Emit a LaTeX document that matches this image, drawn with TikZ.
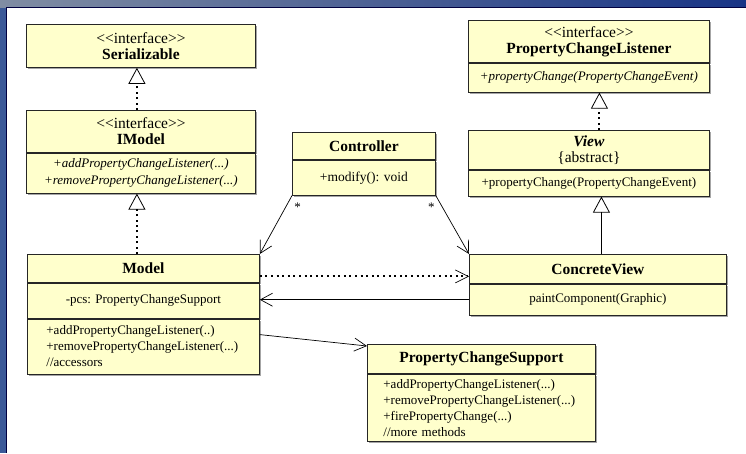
\documentclass[tikz,border=0pt]{standalone}
\usepackage{fontspec}
\setmainfont{Liberation Serif}
\usetikzlibrary{arrows.meta,shadows}
\definecolor{umlfill}{RGB}{255,255,204}
\definecolor{frameblue}{RGB}{59,89,152}
\definecolor{framegray}{RGB}{128,141,163}
\definecolor{framedark}{RGB}{24,52,134}
\newcommand{\umlname}{\fontsize{15.5}{20}\selectfont\bfseries}
\newcommand{\stereo}{\fontsize{15.5}{20}\selectfont{<}{<}interface{>}{>}}
\begin{document}
\begin{tikzpicture}[x=1pt,y=-1pt,
	cls/.style={draw=black!85,line width=0.8pt,fill=umlfill,inner sep=0pt,anchor=north west,
		align=center,font=\fontsize{13}{16}\selectfont,
		drop shadow={shadow xshift=1.5pt,shadow yshift=-1.5pt,fill=black!35,opacity=1}},
	oper/.style={font=\fontsize{13}{17}\selectfont\itshape},
	real/.style={line width=2pt,dash pattern=on 2pt off 3.4pt,
		-{Triangle[open,length=16pt,width=17pt,line width=0.8pt]}},
	gen/.style={line width=0.8pt,-{Triangle[open,length=16pt,width=17pt,line width=0.8pt]}},
	assoc/.style={line width=0.7pt,-{Straight Barb[length=12pt,width=13pt,line width=0.7pt]}},
	dep/.style={line width=2pt,dash pattern=on 2pt off 3.6pt,
		-{Straight Barb[length=13pt,width=13pt,line width=0.7pt]}},
	mult/.style={font=\fontsize{13}{13}\selectfont,inner sep=0pt}]
	% slide frame
	\fill[white] (0,0) rectangle (746,453);
	\useasboundingbox (0,0) rectangle (746,453);
	\fill[frameblue] (0,0) rectangle (6,453);
	\shade[left color=framegray,right color=framedark] (0,0) rectangle (746,7);
	\draw[black!75!blue,line width=1pt] (6,453) -- (6,7) -- (746,7);
	% interfaces
	\node[cls,minimum width=229pt,minimum height=43pt] (serial) at (26,24) {\stereo\\\umlname Serializable};
	\node[cls,minimum width=229pt,minimum height=42pt] (imodel) at (26,110) {\stereo\\\umlname IModel};
	\node[cls,oper,minimum width=229pt,minimum height=40pt] (imodel-b) at (imodel.south west)
		{+addPropertyChangeListener(...)\\+removePropertyChangeListener(...)};
	\node[cls,minimum width=241pt,minimum height=42pt] (pcl) at (468,20) {\stereo\\\umlname PropertyChangeListener};
	\node[cls,oper,minimum width=241pt,minimum height=29pt] (pcl-b) at (pcl.south west)
		{+propertyChange(PropertyChangeEvent)};
	% classes
	\node[cls,minimum width=143pt,minimum height=27pt] (ctrl) at (292,132) {\umlname Controller};
	\node[cls,minimum width=143pt,minimum height=35pt] (ctrl-b) at (ctrl.south west)
		{\fontsize{13.5}{16}\selectfont +modify(): void};
	\node[cls,minimum width=241pt,minimum height=39pt] (view) at (468,130)
		{\umlname\itshape View\\\fontsize{15.5}{20}\selectfont\{abstract\}};
	\node[cls,minimum width=241pt,minimum height=26pt] (view-b) at (view.south west)
		{+propertyChange(PropertyChangeEvent)};
	\node[cls,minimum width=232pt,minimum height=28pt] (model) at (27,254) {\umlname Model};
	\node[cls,minimum width=232pt,minimum height=35pt] (model-a) at (model.south west) {-pcs: PropertyChangeSupport};
	\node[cls,text width=194pt,inner xsep=19pt,minimum height=55pt,align=left] (model-b) at (model-a.south west)
		{+addPropertyChangeListener(..)\\+removePropertyChangeListener(...)\\//accessors};
	\node[cls,minimum width=257pt,minimum height=29pt] (cview) at (469,254) {\umlname ConcreteView};
	\node[cls,minimum width=257pt,minimum height=31pt] (cview-b) at (cview.south west) {paintComponent(Graphic)};
	\node[cls,minimum width=228pt,minimum height=29pt] (pcs) at (367,344) {\umlname PropertyChangeSupport};
	\node[cls,text width=196pt,inner xsep=16pt,minimum height=67pt,align=left] (pcs-b) at (pcs.south west)
		{+addPropertyChangeListener(...)\\+removePropertyChangeListener(...)\\+firePropertyChange(...)\\//more methods};
	% realisation and inheritance
	\coordinate (ix) at ([xshift=-4pt]imodel-b.south);
	\draw[real] ([xshift=-4pt]imodel.north) -- ([xshift=-4pt]serial.south);
	\draw[real] (ix |- model.north) -- (ix);
	\draw[real] ([xshift=10.5pt]view.north) -- ([xshift=10.5pt]pcl-b.south);
	\coordinate (vx) at ([xshift=12.5pt]view-b.south);
	\draw[gen] (vx |- cview.north) -- (vx);
	% associations
	\draw[assoc] (ctrl-b.south west) -- node[mult,pos=0.2,xshift=12pt]{*} (model.north east);
	\draw[assoc] (ctrl-b.south east) -- node[mult,pos=0.2,xshift=-11pt]{*} (cview.north west);
	\coordinate (m1) at ([yshift=-8pt]model.east);
	\draw[dep] (m1) -- (m1 -| cview.west);
	\draw[assoc] (cview-b.west) -- (cview-b.west -| model-a.east);
	\draw[assoc] ([yshift=-16pt]model-b.north east) -- ([yshift=-2pt]pcs.north west);
\end{tikzpicture}
\end{document}
